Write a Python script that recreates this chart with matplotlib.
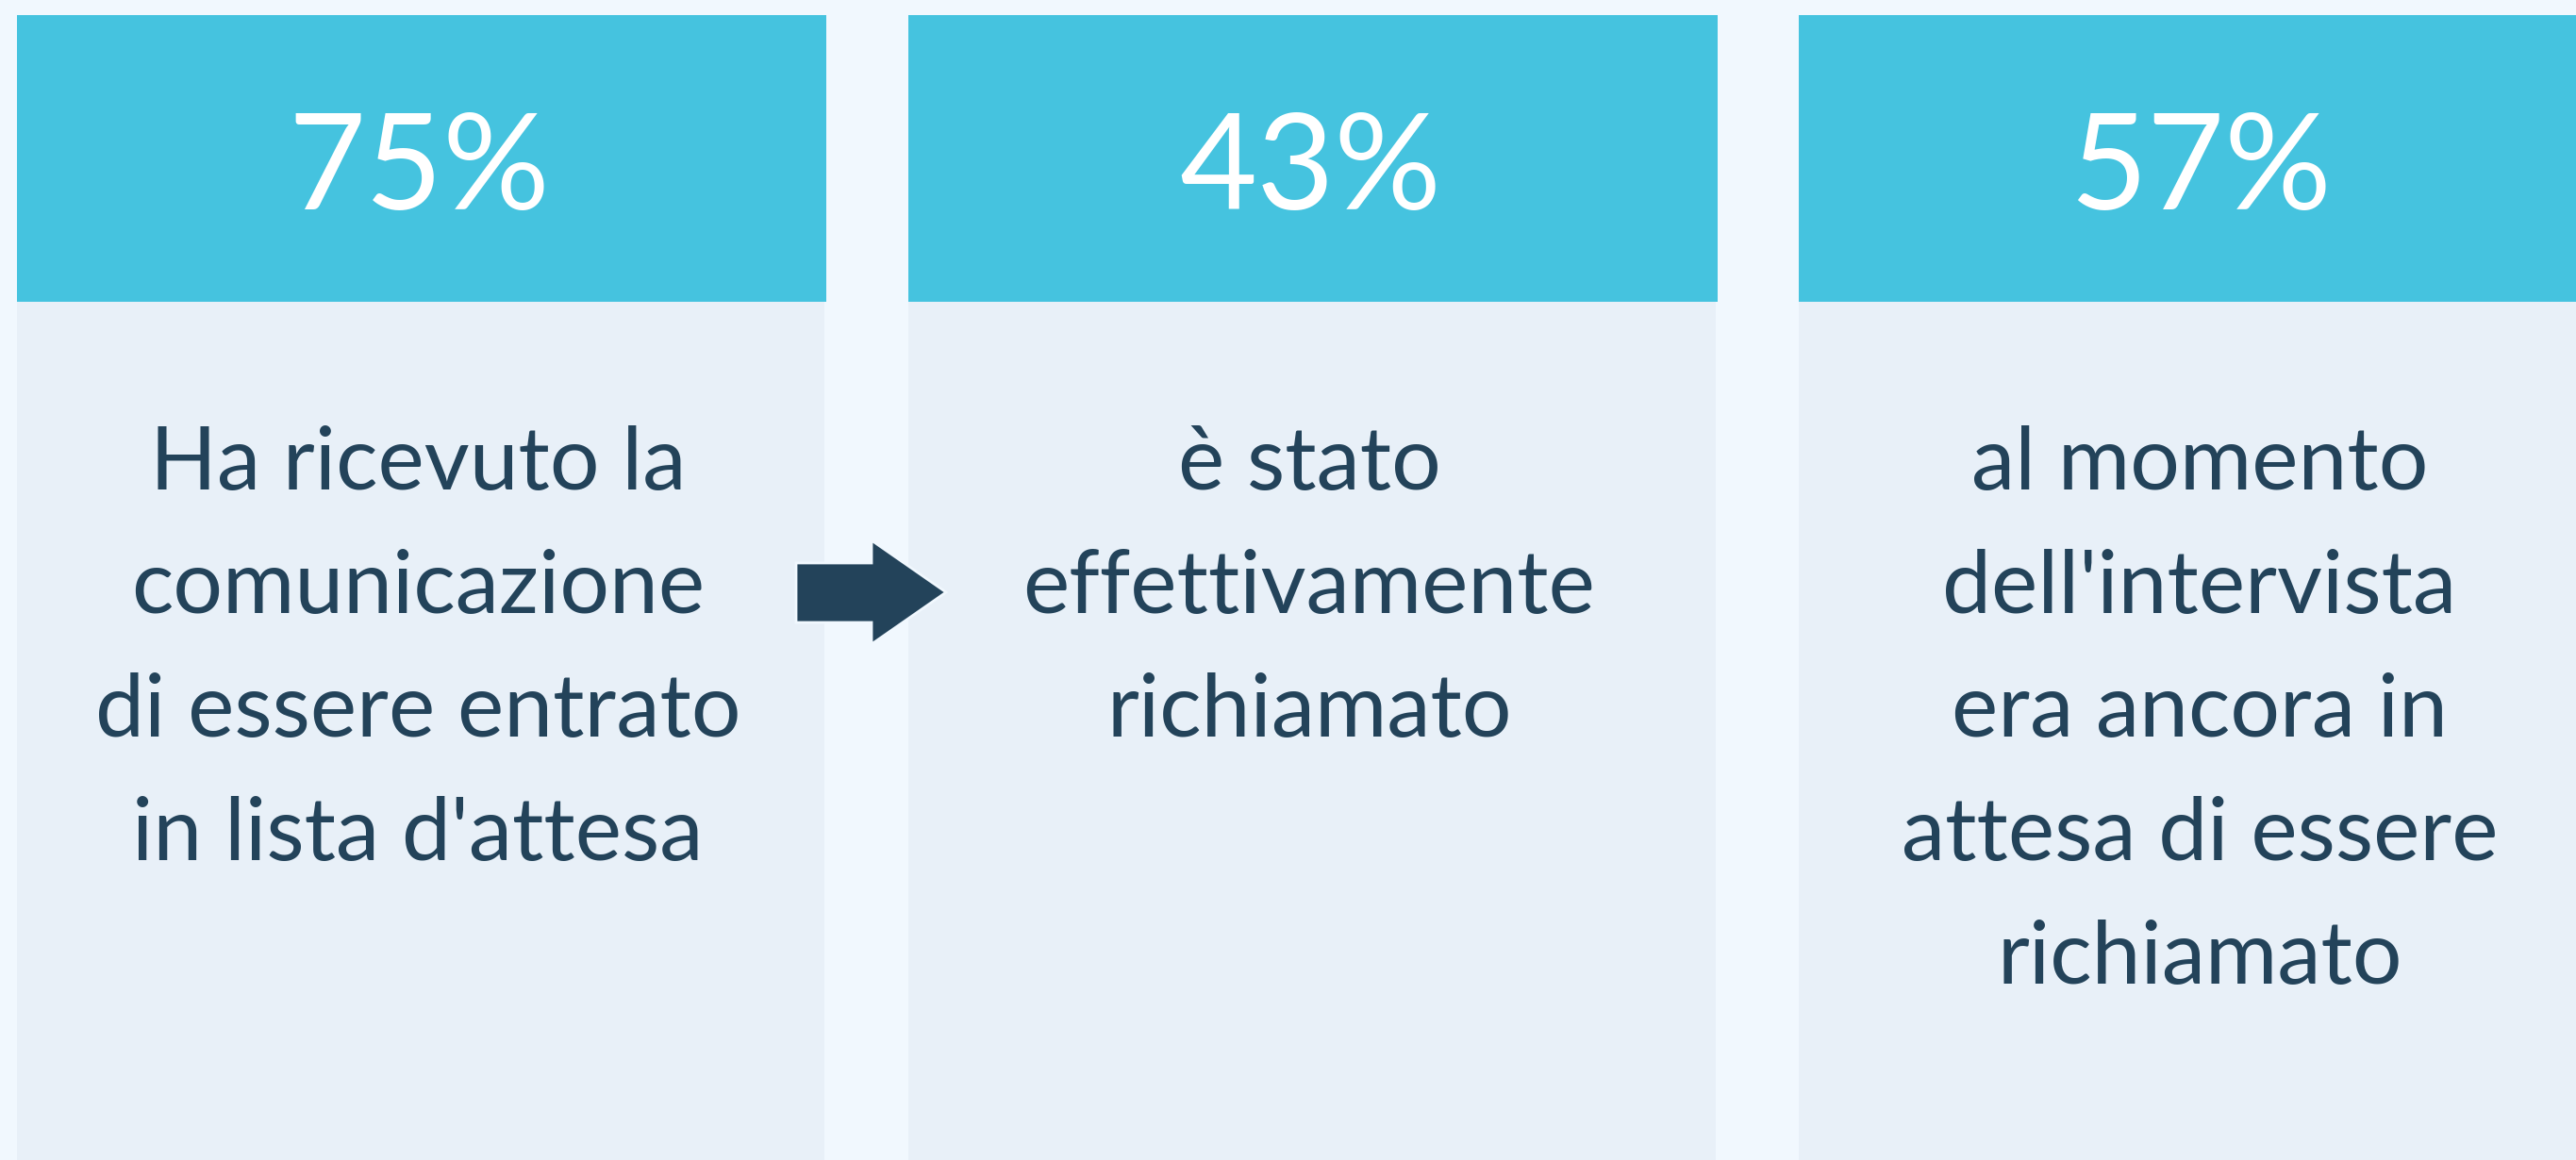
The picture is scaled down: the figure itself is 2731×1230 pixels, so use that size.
import matplotlib
matplotlib.use("Agg")
import matplotlib.pyplot as plt
from matplotlib.patches import Polygon

# dati
percentuali = [75, 43, 57]
descrizioni = [
    "Ha ricevuto la\ncomunicazione\ndi essere entrato\nin lista d'attesa",
    "è stato\neffettivamente\nrichiamato",
    "al momento\ndell'intervista\nera ancora in\nattesa di essere\nrichiamato",
]

W, H = 2731, 1230
bg = "#F1F8FE"
header_col = "#45C3DF"
body_col = "#E8F0F8"
text_col = "#23435A"

fig = plt.figure(figsize=(W / 100, H / 100), dpi=100, facecolor=bg)
ax = fig.add_axes([0, 0, 1, 1])
ax.set_xlim(0, W)
ax.set_ylim(H, 0)
ax.axis("off")
ax.set_facecolor(bg)

left = [18, 963, 1907]
width = 858
head_top, head_bot = 16, 320

for i, (p, d) in enumerate(zip(percentuali, descrizioni)):
    x0 = left[i]
    cx = x0 + width / 2
    # corpo
    ax.bar(x0, H - head_bot, width=width - 2, bottom=head_bot, align="edge",
           color=body_col, linewidth=0)
    # testata
    ax.bar(x0, head_bot - head_top, width=width, bottom=head_top, align="edge",
           color=header_col, linewidth=0)
    ax.text(cx - 3, 222, f"{p}%", ha="center", va="baseline", color="white",
            fontsize=102, family="Lato")
    for k, riga in enumerate(d.split("\n")):
        ax.text(cx - 4, 519 + k * 131, riga, ha="center", va="baseline",
                color=text_col, fontsize=67, family="Lato")

# freccia
freccia = Polygon([(844, 597), (924, 597), (924, 573), (1003, 628),
                   (924, 683), (924, 660), (844, 660)], closed=True,
                  facecolor="#23435A", edgecolor=bg, linewidth=2, zorder=5)
ax.add_patch(freccia)

fig.savefig("out.png", dpi=100, facecolor=bg)
